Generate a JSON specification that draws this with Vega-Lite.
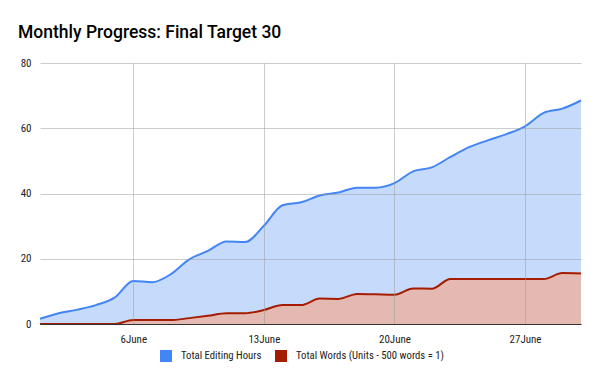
{
  "$schema": "https://vega.github.io/schema/vega-lite/v6.json",
  "width": 541,
  "height": 261,
  "autosize": {"type": "none"},
  "padding": {"left": 40, "top": 63, "right": 19, "bottom": 47},
  "background": "white",
  "title": {
    "text": "Monthly Progress: Final Target 30",
    "anchor": "start",
    "frame": "group",
    "font": "Roboto",
    "fontSize": 17.5,
    "fontWeight": 500,
    "color": "#000000",
    "dx": -22,
    "dy": 23,
    "offset": 25,
    "baseline": "alphabetic"
  },
  "config": {
    "view": {"stroke": null},
    "axis": {"labelFont": "'Liberation Sans Narrow', 'Roboto Condensed', 'DejaVu Sans Condensed', Roboto", "labelFontSize": 11, "labelColor": "#222222"}
  },
  "data": {
    "values": [
      {"day": 1, "series": "Total Editing Hours", "value": 1.6},
      {"day": 2, "series": "Total Editing Hours", "value": 3.3},
      {"day": 3, "series": "Total Editing Hours", "value": 4.4},
      {"day": 4, "series": "Total Editing Hours", "value": 5.8},
      {"day": 5, "series": "Total Editing Hours", "value": 8.1},
      {"day": 6, "series": "Total Editing Hours", "value": 13.2},
      {"day": 7, "series": "Total Editing Hours", "value": 12.8},
      {"day": 8, "series": "Total Editing Hours", "value": 15.2},
      {"day": 9, "series": "Total Editing Hours", "value": 19.8},
      {"day": 10, "series": "Total Editing Hours", "value": 22.4},
      {"day": 11, "series": "Total Editing Hours", "value": 25.3},
      {"day": 12, "series": "Total Editing Hours", "value": 25.1},
      {"day": 13, "series": "Total Editing Hours", "value": 30.1},
      {"day": 14, "series": "Total Editing Hours", "value": 36.4},
      {"day": 15, "series": "Total Editing Hours", "value": 37.3},
      {"day": 16, "series": "Total Editing Hours", "value": 39.4},
      {"day": 17, "series": "Total Editing Hours", "value": 40.3},
      {"day": 18, "series": "Total Editing Hours", "value": 41.8},
      {"day": 19, "series": "Total Editing Hours", "value": 41.8},
      {"day": 20, "series": "Total Editing Hours", "value": 43.2},
      {"day": 21, "series": "Total Editing Hours", "value": 46.8},
      {"day": 22, "series": "Total Editing Hours", "value": 48.0},
      {"day": 23, "series": "Total Editing Hours", "value": 51.2},
      {"day": 24, "series": "Total Editing Hours", "value": 54.2},
      {"day": 25, "series": "Total Editing Hours", "value": 56.3},
      {"day": 26, "series": "Total Editing Hours", "value": 58.2},
      {"day": 27, "series": "Total Editing Hours", "value": 60.6},
      {"day": 28, "series": "Total Editing Hours", "value": 64.7},
      {"day": 29, "series": "Total Editing Hours", "value": 66.0},
      {"day": 30, "series": "Total Editing Hours", "value": 68.5},
      {"day": 1, "series": "Total Words (Units - 500 words = 1)", "value": 0},
      {"day": 2, "series": "Total Words (Units - 500 words = 1)", "value": 0},
      {"day": 3, "series": "Total Words (Units - 500 words = 1)", "value": 0},
      {"day": 4, "series": "Total Words (Units - 500 words = 1)", "value": 0},
      {"day": 5, "series": "Total Words (Units - 500 words = 1)", "value": 0},
      {"day": 6, "series": "Total Words (Units - 500 words = 1)", "value": 1.2},
      {"day": 7, "series": "Total Words (Units - 500 words = 1)", "value": 1.2},
      {"day": 8, "series": "Total Words (Units - 500 words = 1)", "value": 1.2},
      {"day": 9, "series": "Total Words (Units - 500 words = 1)", "value": 1.8},
      {"day": 10, "series": "Total Words (Units - 500 words = 1)", "value": 2.5},
      {"day": 11, "series": "Total Words (Units - 500 words = 1)", "value": 3.3},
      {"day": 12, "series": "Total Words (Units - 500 words = 1)", "value": 3.3},
      {"day": 13, "series": "Total Words (Units - 500 words = 1)", "value": 4.3},
      {"day": 14, "series": "Total Words (Units - 500 words = 1)", "value": 5.8},
      {"day": 15, "series": "Total Words (Units - 500 words = 1)", "value": 5.8},
      {"day": 16, "series": "Total Words (Units - 500 words = 1)", "value": 7.8},
      {"day": 17, "series": "Total Words (Units - 500 words = 1)", "value": 7.7},
      {"day": 18, "series": "Total Words (Units - 500 words = 1)", "value": 9.2},
      {"day": 19, "series": "Total Words (Units - 500 words = 1)", "value": 9.1},
      {"day": 20, "series": "Total Words (Units - 500 words = 1)", "value": 9.0},
      {"day": 21, "series": "Total Words (Units - 500 words = 1)", "value": 10.9},
      {"day": 22, "series": "Total Words (Units - 500 words = 1)", "value": 10.8},
      {"day": 23, "series": "Total Words (Units - 500 words = 1)", "value": 13.8},
      {"day": 24, "series": "Total Words (Units - 500 words = 1)", "value": 13.8},
      {"day": 25, "series": "Total Words (Units - 500 words = 1)", "value": 13.8},
      {"day": 26, "series": "Total Words (Units - 500 words = 1)", "value": 13.8},
      {"day": 27, "series": "Total Words (Units - 500 words = 1)", "value": 13.8},
      {"day": 28, "series": "Total Words (Units - 500 words = 1)", "value": 13.8},
      {"day": 29, "series": "Total Words (Units - 500 words = 1)", "value": 15.6},
      {"day": 30, "series": "Total Words (Units - 500 words = 1)", "value": 15.5}
    ]
  },
  "encoding": {
    "x": {
      "field": "day",
      "type": "quantitative",
      "scale": {"domain": [1, 30], "nice": false, "zero": false},
      "axis": {
        "title": null,
        "values": [6, 13, 20, 27],
        "labelExpr": "datum.value + 'June'",
        "grid": true,
        "gridColor": "#999999",
        "gridOpacity": 0.5,
        "ticks": false,
        "domain": true,
        "domainColor": "#333333",
        "domainWidth": 1,
        "labelPadding": 9,
        "zindex": 1
      }
    },
    "y": {
      "field": "value",
      "type": "quantitative",
      "stack": null,
      "scale": {"domain": [0, 80], "nice": false},
      "axis": {
        "title": null,
        "values": [0, 20, 40, 60, 80],
        "grid": true,
        "gridColor": "#999999",
        "gridOpacity": 0.5,
        "ticks": false,
        "domain": false,
        "labelPadding": 9,
        "zindex": 1
      }
    }
  },
  "layer": [
    {
      "transform": [{"filter": "datum.series === 'Total Editing Hours'"}],
      "mark": {"type": "area", "interpolate": "monotone", "fill": "#c6dafc"}
    },
    {
      "transform": [{"filter": "datum.series !== 'Total Editing Hours'"}],
      "mark": {"type": "area", "interpolate": "monotone", "fill": "#e4b9b1"}
    },
    {
      "mark": {"type": "line", "interpolate": "monotone", "strokeWidth": 2},
      "encoding": {
        "stroke": {
          "field": "series",
          "type": "nominal",
          "scale": {"domain": ["Total Editing Hours", "Total Words (Units - 500 words = 1)"], "range": ["#4285f4", "#a61c00"]},
          "legend": {
            "title": null,
            "orient": "none",
            "direction": "horizontal",
            "legendX": 120,
            "legendY": 287,
            "symbolType": "square",
            "symbolSize": 144,
            "symbolStrokeWidth": 0,
            "labelFont": "'Liberation Sans Narrow', 'Roboto Condensed', 'DejaVu Sans Condensed', Roboto",
            "labelFontSize": 10.7,
            "labelColor": "#222222",
            "labelOffset": 9,
            "labelLimit": 400,
            "columnPadding": 13,
            "encode": {
              "symbols": {"update": {"fill": {"signal": "scale('stroke', datum.value)"}, "strokeWidth": {"value": 0}, "opacity": {"value": 1}}}
            }
          }
        }
      }
    }
  ]
}
